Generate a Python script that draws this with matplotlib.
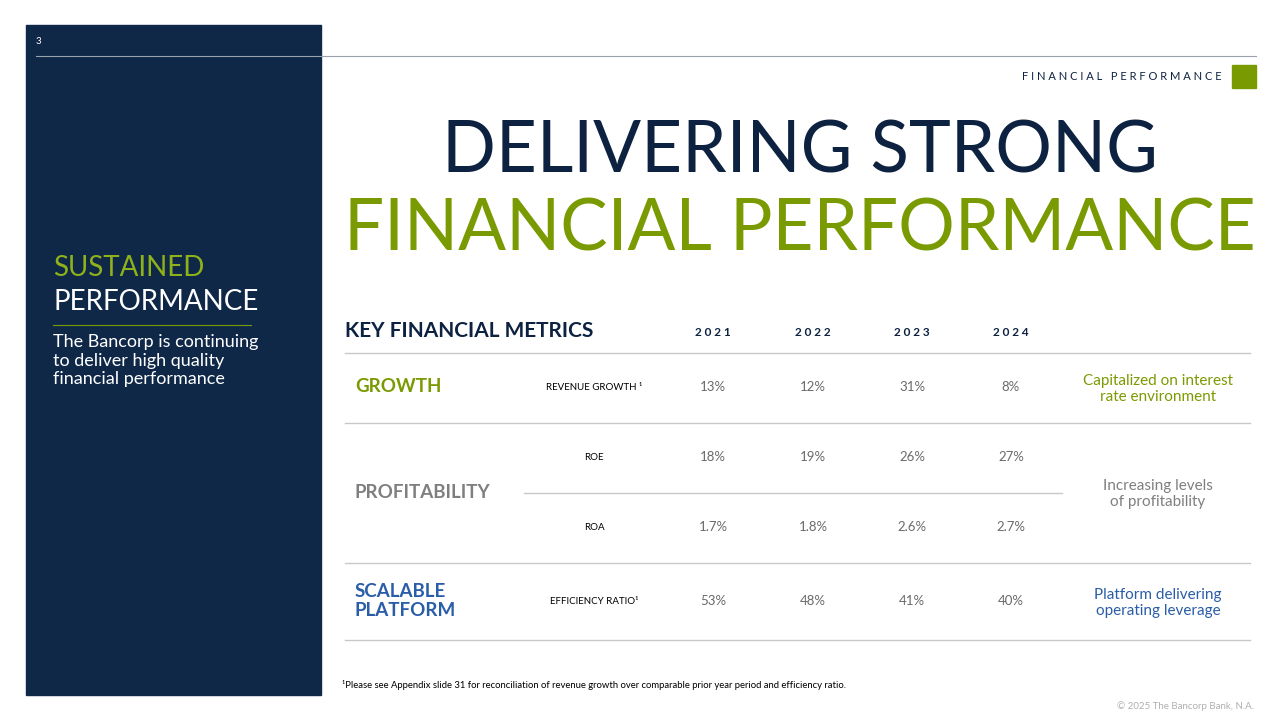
import matplotlib
matplotlib.use("Agg")
import matplotlib.pyplot as plt
from matplotlib.patches import Rectangle

years = ["2021", "2022", "2023", "2024"]
metrics = ["REVENUE GROWTH ¹", "ROE", "ROA", "EFFICIENCY RATIO¹"]
values = [
    ["13%", "12%", "31%", "8%"],
    ["18%", "19%", "26%", "27%"],
    ["1.7%", "1.8%", "2.6%", "2.7%"],
    ["53%", "48%", "41%", "40%"],
]
groups = ["GROWTH", "PROFITABILITY", "SCALABLE\nPLATFORM"]
comments = ["Capitalized on interest\nrate environment",
            "Increasing levels\nof profitability",
            "Platform delivering\noperating leverage"]

NAVY = "#0d2240"
GREEN = "#7a9a01"
GREY = "#7f7f7f"
BLUE = "#2a5da8"
LINE = "#c8c8c8"
FONT = "Lato"

fig = plt.figure(figsize=(12.8, 7.2), dpi=100)
ax = fig.add_axes([0, 0, 1, 1])
ax.set_xlim(0, 1280)
ax.set_ylim(720, 0)
ax.axis("off")

# left panel
ax.add_patch(Rectangle((26, 25), 295, 670, color="#0f2848", zorder=0))
ax.text(36, 42, "3", color="white", fontsize=7, family=FONT, va="center")
ax.plot([36, 1256], [56, 56], color="#9aa3ad", lw=0.8)
ax.text(53, 268, "SUSTAINED", color="#8fb21a", fontsize=20, family=FONT, va="center")
ax.text(53, 302, "PERFORMANCE", color="white", fontsize=20, family=FONT, va="center")
ax.plot([53, 251], [325, 325], color=GREEN, lw=0.8)
ax.text(53, 334, "The Bancorp is continuing\nto deliver high quality\nfinancial performance",
        color="white", fontsize=13, family=FONT, va="top", linespacing=1.2)

# header
ax.text(1222, 77, "F I N A N C I A L   P E R F O R M A N C E", color=NAVY, fontsize=8,
        family=FONT, ha="right", va="center")
ax.add_patch(Rectangle((1232, 65), 24, 23, color=GREEN))
ax.text(800, 152, "DELIVERING STRONG", color=NAVY, fontsize=51, family=FONT,
        ha="center", va="center")
ax.text(800, 230, "FINANCIAL PERFORMANCE", color=GREEN, fontsize=51, family=FONT,
        ha="center", va="center")

# table
col_x = [713, 813, 912, 1011]
row_y = [387, 457, 527, 601]
ax.text(345, 331, "KEY FINANCIAL METRICS", color=NAVY, fontsize=15, family=FONT,
        weight="bold", va="center")
for x, yr in zip(col_x, years):
    ax.text(x, 333, " ".join(yr), color=NAVY, fontsize=8.5, family=FONT, weight="bold",
            ha="center", va="center")
for y in [353, 423, 563, 640]:
    ax.plot([345, 1250], [y, y], color=LINE, lw=1)
ax.plot([524, 1062], [493, 493], color=LINE, lw=1)

for y, name, vals in zip(row_y, metrics, values):
    ax.text(594, y, name, color="black", fontsize=7, family=FONT, ha="center", va="center")
    for x, v in zip(col_x, vals):
        ax.text(x, y, v, color="#6a6a6a", fontsize=9.5, family=FONT, ha="center", va="center")

group_y = [387, 492, 601]
group_c = [GREEN, GREY, BLUE]
for y, g, c in zip(group_y, groups, group_c):
    ax.text(355, y, g, color=c, fontsize=13.5, family=FONT, weight="bold", va="center", linespacing=1.15)
for y, t, c in zip(group_y, comments, group_c):
    ax.text(1158, y + 2, t, color=c, fontsize=11, family=FONT, ha="center", va="center", linespacing=1.2)

ax.text(342, 685, "¹Please see Appendix slide 31 for reconciliation of revenue growth over comparable prior year period and efficiency ratio.",
        color="black", fontsize=6.8, family=FONT, va="center")
ax.text(1254, 706, "© 2025 The Bancorp Bank, N.A.", color="#b0b0b0", fontsize=7, family=FONT,
        ha="right", va="center")

fig.savefig("out.png", dpi=100)
